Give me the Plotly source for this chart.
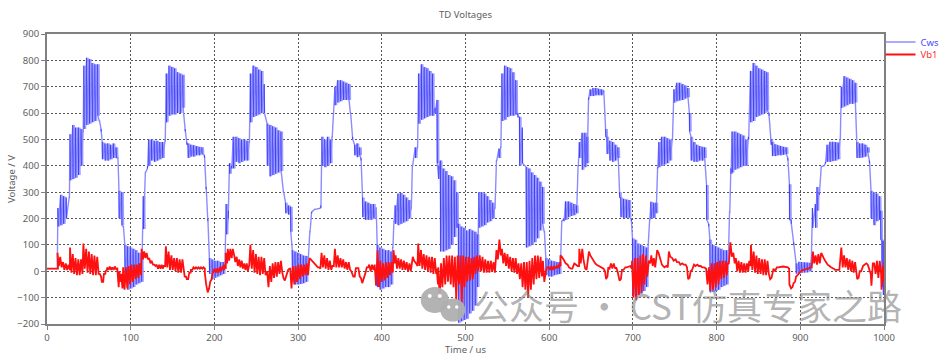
import plotly.graph_objects as go

title_text = "TD Voltages"
x_label = "Time / us"
y_label = "Voltage / V"
x_ticks = [0, 100, 200, 300, 400, 500, 600, 700, 800, 900, 1000]
y_ticks = [-200, -100, 0, 100, 200, 300, 400, 500, 600, 700, 800, 900]
watermark = "公众号 · CST仿真专家之路"

# rows: [time, upper reading, lower reading]
cws_1 = [[0,10,10],[12,10,10],[13,240,170],[16.3,290,175],[19.6,285,180],[22.9,280,200],[26.5,280,280],[27.5,520,345],[30.8,555,350],[34.1,545,355],[37.4,545,365],[40.7,540,400],[43,530,530],[44,780,540],[47.3,810,555],[50.6,805,560],[53.9,790,565],[57.2,785,570],[60.5,785,590],[62.5,570,570],[64.5,540,530],[66,490,425],[69.3,485,420],[72.6,485,420],[75.9,480,425],[79.2,485,430],[82.5,470,430],[84.5,430,430],[86,305,200],[89.3,300,175],[91,170,170],[93,100,-10],[96.3,95,-70],[99.6,90,-65],[102.9,85,-60],[106.2,80,-50],[109.5,70,-45],[112.8,70,-40]]
cws_2 = [[115,285,160],[117.5,375,375],[120,390,400],[121.5,500,400],[124.8,500,420],[128.1,495,415],[131.4,495,420],[134.7,490,425],[138,490,430],[141,495,495],[142.5,750,565],[145.8,780,590],[149.1,775,595],[152.4,770,595],[155.7,755,600],[159,750,600],[162.3,745,620],[165,540,530],[167,490,480],[168.5,485,430],[171.8,480,435],[175.1,478,435],[178.4,475,440],[181.7,472,440],[185,470,445],[188,440,430],[190,320,310],[192,200,190],[194,50,-10],[197.3,45,-30],[200.6,40,-25],[203.9,40,-20],[207.2,35,-15],[210.5,35,-10],[212.5,35,35]]
cws_3 = [[214,255,140],[216.5,200,230],[218,410,370],[220.5,400,390],[222.5,510,390],[225.8,510,415],[229.1,505,410],[232.4,500,415],[235.7,500,420],[239,495,420],[241.5,490,490],[243,750,565],[246.3,780,585],[249.6,775,590],[252.9,765,595],[256.2,760,600],[259.5,710,600],[263,560,400],[266.3,555,360],[269.6,550,365],[272.9,545,370],[276.2,535,375],[279.5,530,380],[282.5,300,300],[285,260,220],[288.3,250,215],[291,245,150],[293,80,-15],[296.3,75,-50],[299.6,70,-50],[302.9,65,-48],[306.2,60,-45],[309.5,58,-40],[312,55,55]]
cws_4 = [[314,150,150],[316,220,225],[320,235,235],[325,238,238],[327,240,250],[328.5,510,400],[331.8,500,395],[335.1,510,400],[338.4,500,410],[340.5,510,510],[344,700,630],[347.3,725,640],[350.6,725,645],[353.9,720,650],[357.2,715,650],[360.5,710,650],[362.5,600,600],[365,510,500],[367.5,480,440],[370.5,485,433],[373.5,470,440],[375,430,420],[377,280,205],[380.3,265,195],[383.6,260,195],[386.9,255,195],[390.2,255,200],[393,240,240],[394.5,100,-60],[397.8,90,-70],[401.1,85,-65],[404.4,80,-60],[407.7,80,-60],[411,75,-50],[413,90,90]]
cws_5 = [[414.5,190,190],[416,250,180],[419.3,295,175],[422.6,297,180],[425.9,290,185],[429.2,280,190],[432.5,270,200],[435,240,240],[436.5,400,400],[440,470,430],[442.5,470,470],[444,750,560],[447.3,785,575],[450.6,775,580],[453.9,770,585],[457.2,760,590],[460.5,750,590],[463.5,620,600],[466,650,410],[468,350,400],[470,420,75],[473.3,390,75],[476.6,380,80],[479.9,365,85],[483.2,360,100],[486.5,345,130],[489.5,300,165],[491.5,180,-195],[494.8,170,-190],[498.1,165,-185],[501.4,155,-180],[504.7,160,-160],[508,155,-150],[511.3,150,-130],[514,140,-60]]
cws_6 = [[516,300,165],[519.3,300,170],[522.6,295,175],[525.9,285,185],[529.2,270,190],[532.5,260,200],[535,240,240],[537,420,420],[540,465,430],[542,470,470],[543.5,750,570],[546.8,780,575],[550.1,775,585],[553.4,770,590],[556.7,755,590],[560,725,595],[562.5,600,585],[564.5,585,400],[567.8,545,410],[572.5,395,90],[575.8,390,95],[579.1,375,100],[582.4,365,110],[585.7,355,125],[589,340,155],[592,320,180],[594,150,150],[596,50,-15],[599.3,45,-20],[602.6,40,-20],[605.9,38,-15],[609.2,35,-12],[612,35,-10]]
cws_7 = [[613.5,60,60],[615,190,190],[617.5,200,190],[619.5,265,195],[622.8,265,205],[626.1,260,210],[629.4,255,213],[632.5,250,220],[634.5,400,400],[636,490,430],[639.3,525,385],[642.6,525,395],[645,510,410],[647,650,660],[649,690,665],[652.3,695,665],[655.6,695,668],[658.9,692,668],[662.2,690,668],[665,685,680],[667.5,540,510],[669,510,445],[672.3,495,420],[675.6,490,415],[678.9,480,420],[682,470,430],[684,300,280],[685.5,280,205],[688.8,275,202],[692.1,272,202],[695.4,270,205],[698,200,190],[699.5,125,-90],[702.8,120,-100],[706.1,105,-90],[709.4,100,-85],[712.7,95,-75],[716,90,-60]]
cws_8 = [[718,100,100],[720,195,195],[721.5,264,200],[724.8,260,202],[727.5,260,220],[729.5,390,395],[731,490,395],[734.3,510,400],[737.6,510,405],[740.9,505,410],[744.2,500,420],[747,500,500],[749,690,640],[752.3,715,645],[755.6,715,648],[758.9,710,650],[762.2,705,655],[765.5,695,660],[767.5,600,530],[769.5,510,420],[772.8,490,415],[776.1,480,415],[779.4,475,420],[782.7,472,420],[785.5,470,430],[788,327,195],[790.5,180,170],[792,120,-80],[795.3,100,-78],[798.6,95,-75],[801.9,90,-70],[805.2,85,-60],[808.5,80,-55],[811.8,80,-50],[814,80,80]]
cws_9 = [[815.5,225,225],[817,390,370],[818.5,530,375],[821.8,530,385],[825.1,525,390],[828.4,520,395],[831.7,515,400],[835,500,400],[838,510,500],[840.5,760,565],[843.8,790,570],[847.1,780,585],[850.4,770,590],[853.7,765,595],[857,760,600],[860,755,610],[862.5,600,590],[865,500,480],[866.5,490,437],[869.8,482,437],[873.1,478,440],[876.4,475,440],[879.7,472,442],[883,470,445],[885,430,420],[887,330,195],[889,195,180],[892,110,100],[895,30,-9],[898.3,36,-8],[901.6,35,-6],[904.9,34,-5],[908.2,33,-4],[911.5,32,0]]
cws_10 = [[913,60,60],[914.5,240,164],[918,255,165],[920,320,230],[922.5,300,290],[925,397,397],[928,400,400],[930,410,415],[932,480,415],[935.3,491,415],[938.6,491,418],[941.9,490,420],[945.2,488,425],[947.5,500,500],[949,700,620],[952.3,740,625],[955.6,735,630],[958.9,730,635],[962.2,725,635],[965.5,715,640],[967.5,490,430],[970.8,485,430],[974.1,485,432],[977.4,480,435],[980.5,470,450],[982.5,420,410],[984.5,305,200],[987.8,300,175],[991.1,295,190],[994.4,285,195],[996,230,120],[997.5,120,-60],[999,115,-90]]

vb1_1 = [[0,10,10],[11.5,10,10],[12.5,70,20],[15.8,55,15],[19.1,35,5],[22.4,30,5],[25.7,25,5],[27.5,90,-5],[30.8,65,-10],[34.1,50,-15],[37.4,45,-15],[40.7,45,-10],[43.5,105,10],[46.8,85,-5],[50.1,75,-10],[53.4,65,-15],[56.7,60,-15],[60,55,-10],[63,-10,-20],[65.5,-40,-40],[68,-10,-10],[70,0,5],[72,15,5],[75,18,5],[78,15,5],[81,18,8],[84,10,-60],[86.5,0,-40],[88.5,-10,-65],[91,15,-70],[94.3,15,-65],[97.6,20,-50],[100.9,25,-40],[104.2,25,-30],[107.5,25,-25],[110.8,30,-15]]
vb1_2 = [[113,85,45],[116,75,50],[119,70,45],[122,50,30],[125,40,25],[128,25,20],[131,25,10],[134,25,10],[137,25,10],[139.5,20,20],[142,95,15],[145.3,75,5],[148.6,60,5],[151.9,50,0],[155.2,50,-5],[158.5,45,-5],[161.8,45,-10],[164.5,-20,-20],[167,-30,-30],[170,-5,-5],[172,5,5],[175,15,10],[178,15,10],[181,15,10],[184,15,10],[187,15,10],[188.5,-5,-50],[192,-80,-65],[195,-40,-30],[197.5,-10,0],[200,10,-5],[203.3,10,-5],[206.6,15,0],[209.9,20,5],[212,25,10]]
vb1_3 = [[213.5,70,30],[216,85,40],[219,85,50],[222,85,60],[225,35,55],[228,20,45],[231,15,40],[234,10,30],[237,5,30],[240,0,25],[243,100,10],[246.3,80,-5],[249.6,65,-10],[252.9,55,-15],[256.2,55,-10],[259.5,50,-15],[263,0,-60],[266.3,20,-40],[269.6,30,-25],[272.9,35,-20],[276.2,35,-10],[279.5,40,-5],[282.5,-25,-35],[285,-25,-15],[288,5,10],[290.5,10,-65],[293.8,20,-50],[297.1,20,-40],[300.4,25,-30],[303.7,25,-20],[307,25,-15],[310.3,30,-15]]
vb1_4 = [[313.5,50,45],[318,35,25],[322,20,15],[325,15,10],[328,70,15],[331.3,60,10],[334.6,50,5],[337.9,40,5],[341,20,20],[344,85,15],[347.3,60,15],[350.6,50,15],[353.9,45,10],[357.2,35,5],[360.5,35,5],[363.5,0,-20],[366,-20,-20],[369,12,12],[372,12,-20],[375,-25,-45],[379,-25,-5],[382,15,15],[385,25,0],[388.3,25,5],[391.5,25,-55],[395,80,-60],[398.3,40,-40],[401.6,30,-35],[404.9,35,-25],[408.2,35,-15],[411.5,35,-5]]
vb1_5 = [[414,80,30],[416.5,60,10],[419.8,50,10],[423.1,45,5],[426.4,40,5],[429.7,35,0],[433,30,0],[437,55,40],[441,30,20],[443.5,105,20],[446.8,80,10],[450.1,65,5],[453.4,60,0],[456.7,55,-5],[460,55,-10],[463.3,50,-10],[465.5,10,-50],[467.5,15,-110],[470.8,30,-60],[474.1,50,-50],[477.4,60,-40],[480.7,60,-50],[484,60,-60],[487.3,55,-110],[490.6,60,-50],[493.9,60,-120],[497.2,60,-60],[500.5,55,-40],[503.8,55,-35],[507.1,50,-30],[510.4,55,-10],[513.7,60,0]]
vb1_6 = [[517,60,0],[520.3,55,-5],[523.6,45,-5],[526.9,40,-5],[530.2,40,0],[533.5,35,-5],[537,80,45],[540.5,120,60],[543.5,85,30],[546.8,70,20],[550.1,65,10],[553.4,55,0],[556.7,50,-5],[560,50,-10],[563.3,30,-30],[566.6,30,-60],[569.9,35,-70],[573.2,35,-100],[576.5,40,-70],[579.8,50,-50],[583.1,60,-30],[586.4,60,-25],[589.7,55,-20],[592.5,40,-40],[596,0,15],[599.3,15,5],[602.6,20,5],[605.9,20,10],[609.2,20,15],[612,25,20]]
vb1_7 = [[613.5,60,55],[618,40,30],[622,25,15],[626,10,10],[630,30,25],[634,20,20],[636,85,30],[639.5,85,40],[643,10,5],[647.5,75,60],[651,50,40],[655,30,25],[660,20,15],[665,10,0],[668,-30,-20],[670.5,15,10],[673.8,30,10],[677.1,30,10],[680,15,0],[684,-35,-30],[687,5,5],[691,15,15],[697,20,10],[699,40,-100],[702.3,50,-110],[705.6,50,-90],[708.9,60,-80],[712.2,65,-50],[715.5,60,-20]]
vb1_8 = [[719,40,30],[722,60,20],[725,50,15],[729,80,70],[733,40,25],[736,20,15],[740,20,15],[743,75,55],[747,50,40],[751,45,35],[755,35,25],[759,30,25],[763,25,15],[766,-30,-25],[769,0,5],[773,25,20],[777,25,20],[781,20,15],[785,15,10],[787.5,10,-50],[790.8,15,-75],[794.1,30,-70],[797.4,30,-60],[800.7,35,-50],[804,40,-30],[807.3,40,-25],[810.6,40,-15],[813,30,30]]
vb1_9 = [[816.5,110,55],[820,70,30],[823,50,0],[826.3,40,-5],[829.6,35,-5],[832.9,30,-5],[836.2,30,0],[839,40,20],[841,100,5],[844.3,75,-5],[847.6,60,-10],[850.9,50,-10],[854.2,45,-15],[857.5,45,-15],[860.8,40,-10],[864,-30,-25],[868,10,0],[872,15,15],[878,18,18],[885,15,10],[887,-50,-60],[889,-65,-60],[892,-45,-40],[895,-20,-15],[899,-5,0],[903,5,5],[908,10,10],[912,15,15]]
vb1_10 = [[915,75,30],[918.3,60,25],[921.6,65,30],[925,70,55],[928,50,40],[931,30,25],[935,20,15],[940,10,5],[945,5,5],[949,90,15],[952.3,60,15],[955.6,50,5],[958.9,45,0],[962.2,40,-5],[965.5,35,-5],[968,-30,-25],[971,0,0],[975,20,25],[979,30,25],[982.5,0,-10],[985,-55,30],[988.3,30,-10],[991.6,40,-25],[994.9,40,-10],[997,-70,20],[999,-40,35]]


def expand(rows, fall):
    xs, ys = [], []
    for t, hi, lo in rows:
        xs += [t, t + fall]
        ys += [hi, lo]
    return xs, ys


def edges(rows, fall, shift=0.0):
    xs, ys = [], []
    for t, hi, lo in rows:
        xs += [t + shift, t + shift + fall, None]
        ys += [hi, lo, None]
    return xs, ys


def bursts(rows):
    return [row for row, nxt in zip(rows, rows[1:])
            if nxt[0] - row[0] < 3.5 and row[1] - row[2] > 15]


cws_rows = cws_1 + cws_2 + cws_3 + cws_4 + cws_5 + cws_6 + cws_7 + cws_8 + cws_9 + cws_10
vb1_rows = vb1_1 + vb1_2 + vb1_3 + vb1_4 + vb1_5 + vb1_6 + vb1_7 + vb1_8 + vb1_9 + vb1_10
cws_x, cws_y = expand(cws_rows, 0.3)
edge_x, edge_y = edges(cws_rows, 0.3)
band_x, band_y = edges(bursts(cws_rows), 0.3, 1.65)
vb1_x, vb1_y = expand(vb1_rows, 1.65)

PL, PR, PT, PB = 47.0, 884.5, 34.0, 324.0
W, H = 940, 356


def px(v):
    return (v - PL) / (PR - PL)


def py(v):
    return (PB - v) / (PB - PT)


fig = go.Figure()
fig.add_trace(go.Scatter(x=band_x, y=band_y, mode="lines", showlegend=False,
                         hoverinfo="skip", line=dict(color="#a0a0ff", width=1.6)))
fig.add_trace(go.Scatter(x=cws_x, y=cws_y, mode="lines", legend="legend",
                         name='<span style="color:#4a4aff">Cws</span>',
                         line=dict(color="#8c8cff", width=1.4)))
fig.add_trace(go.Scatter(x=edge_x, y=edge_y, mode="lines", showlegend=False,
                         hoverinfo="skip", line=dict(color="#2a2aff", width=0.8)))
fig.add_trace(go.Scatter(x=vb1_x, y=vb1_y, mode="lines", legend="legend2",
                         name='<span style="color:#ff3030">Vb1</span>',
                         line=dict(color="#ff1010", width=1.8)))

font = dict(family="Noto Sans", size=9.5, color="#606060")
axis = dict(showline=True, linecolor="#808080", linewidth=2, mirror=True,
            ticks="outside", ticklen=4, tickcolor="#808080", tickwidth=1,
            showgrid=True, gridcolor="#555555", griddash="2px,2px", gridwidth=1,
            zeroline=False, tickfont=font, automargin=False)

shapes = []
for cx, cy, rx, ry, col in [
    (435, 300, 14, 13, "rgba(175,175,175,0.95)"),
    (453, 310, 12.5, 11.5, "rgba(175,175,175,0.95)"),
    (430, 296, 2, 2, "white"), (440, 296, 2, 2, "white"),
    (449, 307, 1.7, 1.7, "white"), (457, 307, 1.7, 1.7, "white"),
]:
    shapes.append(dict(type="circle", xref="paper", yref="paper",
                       x0=px(cx - rx), x1=px(cx + rx),
                       y0=py(cy + ry), y1=py(cy - ry),
                       fillcolor=col, line=dict(width=0)))

legend_base = dict(xanchor="left", yanchor="top", bgcolor="rgba(0,0,0,0)",
                   borderwidth=0, itemwidth=30, font=dict(family="Noto Sans", size=9.5))

fig.update_layout(
    width=W, height=H, autosize=False,
    margin=dict(l=PL, r=W - PR, t=PT, b=H - PB, pad=0, autoexpand=False),
    plot_bgcolor="white", paper_bgcolor="white",
    font=font,
    title=dict(text=title_text, font=font, x=0.5, xref="paper", xanchor="center",
               y=1 - 15 / H, yref="container", yanchor="middle"),
    xaxis=dict(axis, range=[0, 1000], tickvals=x_ticks,
               title=dict(text=x_label, font=font, standoff=10)),
    yaxis=dict(axis, range=[-200, 900], tickvals=y_ticks,
               title=dict(text=y_label, font=font, standoff=0)),
    legend=dict(legend_base, x=px(881), y=py(27.5)),
    legend2=dict(legend_base, x=px(881), y=py(40)),
    shapes=shapes,
    annotations=[dict(text=watermark, xref="paper", yref="paper",
                      x=px(472), y=py(304), xanchor="left", yanchor="middle",
                      showarrow=False,
                      font=dict(family="Noto Sans CJK SC", size=35,
                                color="rgba(130,130,130,0.62)"))],
)
fig.write_html("out.html", config={"displayModeBar": False},
               post_script="document.body.style.margin='0';document.documentElement.style.overflow='hidden';")
